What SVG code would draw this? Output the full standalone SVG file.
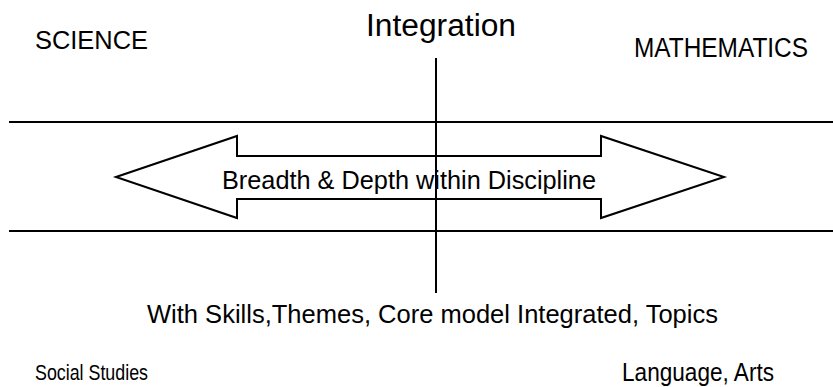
<svg xmlns="http://www.w3.org/2000/svg" width="833" height="387" viewBox="0 0 833 387">
<style>
.t{font-family:"Liberation Sans",Arial,sans-serif;fill:#000}
.ln{stroke:#000;stroke-width:2;fill:none}
</style>
<rect width="833" height="387" fill="#fff"/>
<g id="arrow">
<polygon points="116,177 237,136 237,156 601,156 601,136 724,177 601,218 601,199 237,199 237,218" fill="#fff" stroke="#000" stroke-width="2"/>
</g>
<g id="connectors">
<line class="ln" x1="9" y1="122" x2="833" y2="122"/>
<line class="ln" x1="9" y1="231" x2="833" y2="231"/>
<line class="ln" x1="436" y1="58" x2="436" y2="293"/>
</g>
<g id="labels">
<text class="t" x="35" y="49" font-size="25" textLength="113" lengthAdjust="spacingAndGlyphs">SCIENCE</text>
<text class="t" x="366" y="36" font-size="31" textLength="150" lengthAdjust="spacingAndGlyphs">Integration</text>
<text class="t" x="634" y="57" font-size="27" textLength="174" lengthAdjust="spacingAndGlyphs">MATHEMATICS</text>
<text class="t" x="222" y="189" font-size="26" textLength="374" lengthAdjust="spacingAndGlyphs">Breadth &amp; Depth within Discipline</text>
<text class="t" x="147" y="323" font-size="26" textLength="571" lengthAdjust="spacingAndGlyphs">With Skills,Themes, Core model Integrated, Topics</text>
<text class="t" x="35" y="380" font-size="22" textLength="113" lengthAdjust="spacingAndGlyphs">Social Studies</text>
<text class="t" x="622" y="381" font-size="25" textLength="152" lengthAdjust="spacingAndGlyphs">Language, Arts</text>
</g>
</svg>
